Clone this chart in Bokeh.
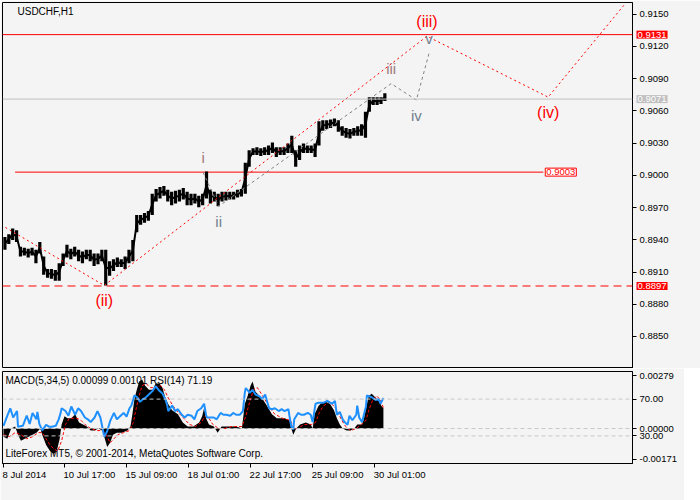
from bokeh.plotting import figure
from bokeh.models import Range1d, FixedTicker, Span, Label, PrintfTickFormatter
from bokeh.layouts import column
from bokeh.embed import file_html
from bokeh.resources import INLINE
from bokeh.core.properties import value

# ---------------- data ----------------
symbol = "USDCHF,H1"
bars = list(range(0, 393, 4))  # hourly bar index of each sample
high = [0.89425, 0.89452, 0.89506, 0.89488, 0.89335, 0.89326, 0.89317, 0.89326, 0.89308, 0.89380,
        0.89245, 0.89128, 0.89128, 0.89119, 0.89182, 0.89272, 0.89353, 0.89317, 0.89335, 0.89308,
        0.89290, 0.89308, 0.89308, 0.89272, 0.89272, 0.89308, 0.89308, 0.89200, 0.89218, 0.89236,
        0.89218, 0.89245, 0.89308, 0.89398, 0.89631, 0.89631, 0.89649, 0.89667, 0.89829, 0.89874,
        0.89892, 0.89901, 0.89865, 0.89847, 0.89856, 0.89865, 0.89883, 0.89847, 0.89829, 0.89829,
        0.89811, 0.89829, 0.90036, 0.89865, 0.89847, 0.89829, 0.89847, 0.89847, 0.89847, 0.89847,
        0.89865, 0.89874, 0.90117, 0.90234, 0.90252, 0.90261, 0.90252, 0.90261, 0.90279, 0.90306,
        0.90261, 0.90261, 0.90261, 0.90297, 0.90369, 0.90234, 0.90279, 0.90297, 0.90279, 0.90279,
        0.90297, 0.90503, 0.90512, 0.90512, 0.90521, 0.90530, 0.90512, 0.90458, 0.90440, 0.90431,
        0.90440, 0.90458, 0.90476, 0.90593, 0.90728, 0.90728, 0.90728, 0.90728, 0.90764]
low = [0.89308, 0.89362, 0.89398, 0.89380, 0.89245, 0.89254, 0.89236, 0.89254, 0.89182, 0.89272,
       0.89074, 0.89047, 0.89038, 0.89020, 0.89020, 0.89155, 0.89236, 0.89218, 0.89245, 0.89200,
       0.89182, 0.89218, 0.89200, 0.89155, 0.89173, 0.89200, 0.88975, 0.89065, 0.89110, 0.89146,
       0.89146, 0.89128, 0.89182, 0.89200, 0.89470, 0.89541, 0.89559, 0.89577, 0.89631, 0.89757,
       0.89784, 0.89811, 0.89757, 0.89721, 0.89739, 0.89757, 0.89775, 0.89721, 0.89721, 0.89739,
       0.89703, 0.89721, 0.89784, 0.89739, 0.89757, 0.89712, 0.89757, 0.89766, 0.89775, 0.89775,
       0.89793, 0.89802, 0.89829, 0.90081, 0.90189, 0.90189, 0.90180, 0.90189, 0.90189, 0.90207,
       0.90171, 0.90189, 0.90189, 0.90207, 0.90207, 0.90081, 0.90144, 0.90207, 0.90207, 0.90207,
       0.90171, 0.90279, 0.90414, 0.90431, 0.90440, 0.90458, 0.90405, 0.90369, 0.90351, 0.90342,
       0.90369, 0.90369, 0.90369, 0.90351, 0.90593, 0.90656, 0.90656, 0.90665, 0.90692]

price_ticks = [0.8850, 0.8880, 0.8910, 0.8940, 0.8970, 0.9000, 0.9030, 0.9060, 0.9090, 0.9120, 0.9150]
price_range = (0.88202, 0.91609)
bar_range = (-1, 649)

level_target = 0.9131
level_close = 0.9071
level_mid = 0.9003
level_mid_bars = [12, 557]
level_support = 0.8897

wave_major_bar = [2, 104, 437, 562, 640]
wave_major_price = [0.89515, 0.88975, 0.91295, 0.90728, 0.91582]
wave_major_label = ["", "(ii)", "(iii)", "(iv)", ""]
wave_major_side = [0, 1, -1, 1, 0]          # 1 = below point, -1 = above
wave_minor_bar = [206, 222, 400, 426, 439]
wave_minor_price = [0.90027, 0.89712, 0.90854, 0.90701, 0.91133]
wave_minor_label = ["i", "ii", "iii", "iv", "v"]
wave_minor_side = [-1, 1, -1, 1, -1]
wave_minor_color = ["#A07A7A", "#708090", "#A07A7A", "#708090", "#708090"]

time_tick_bar = [0, 63, 127, 191, 255, 319, 383]
time_tick_label = ["8 Jul 2014", "10 Jul 17:00", "15 Jul 09:00", "18 Jul 01:00",
                   "22 Jul 17:00", "25 Jul 09:00", "30 Jul 01:00"]

macd_range = (-0.00171, 0.00279)
macd_bar = [0, 4, 8, 12, 15, 18, 22, 26, 30, 34, 38, 40, 44, 48, 52, 55, 58, 60, 63, 66,
            70, 74, 78, 82, 86, 90, 94, 98, 102, 104, 107, 110, 113, 117, 122, 128, 131, 133, 135, 137,
            140, 143, 146, 150, 154, 157, 161, 164, 167, 170, 174, 180, 185, 190, 196, 202, 205, 207, 209, 212,
            217, 221, 225, 232, 240, 246, 249, 252, 255, 257, 260, 264, 268, 272, 277, 282, 290, 295, 297, 299,
            302, 306, 312, 317, 319, 321, 325, 329, 333, 337, 341, 344, 347, 350, 354, 358, 362, 365, 370, 372,
            374, 377, 380, 384, 387, 390, 392]
macd_val = [-0.0004, -0.0005, 0.0000, 0.0001, -0.0003, -0.0006, -0.0005, -0.0004, -0.0003, -0.0002,
            0.0000, -0.0003, -0.0008, -0.0011, -0.00125, -0.0011, -0.0005, 0.0002, 0.0006, 0.0005,
            0.0005, 0.0007, 0.0003, 0.0002, 0.0001, -0.0001, -0.0001, 0.0000, -0.0001, -0.0004,
            -0.0009, -0.0007, -0.0003, -0.0002, -0.0002, -0.0001, 0.0001, 0.0007, 0.0014, 0.0018,
            0.0023, 0.0024, 0.0021, 0.0019, 0.0019, 0.0022, 0.0022, 0.0020, 0.0015, 0.0012,
            0.0009, 0.0007, 0.0003, 0.0001, 0.0001, 0.0003, 0.0006, 0.0010, 0.0005, 0.0002,
            0.0001, -0.0002, 0.0001, 0.0001, 0.0001, 0.0000, 0.0012, 0.0016, 0.0021, 0.0023,
            0.0018, 0.0016, 0.0014, 0.0011, 0.0007, 0.0005, 0.0005, 0.0004, 0.0000, -0.0003,
            0.0000, 0.0002, 0.0003, 0.0002, 0.0000, 0.0007, 0.0011, 0.0013, 0.0013, 0.0012,
            0.0009, 0.0005, 0.0002, 0.0000, -0.0001, -0.0001, 0.0000, 0.0002, 0.0002, 0.0005,
            0.0010, 0.0016, 0.0017, 0.0015, 0.0014, 0.0011, 0.00099]
signal_bar = [0, 6, 12, 18, 24, 30, 36, 40, 44, 48, 52, 56, 60, 64, 68, 72, 76, 80, 84, 90,
              96, 102, 106, 110, 114, 118, 124, 130, 134, 137, 140, 143, 147, 152, 157, 162, 166, 170, 175, 180,
              186, 192, 198, 204, 208, 212, 216, 222, 228, 236, 246, 250, 254, 258, 262, 266, 270, 275, 280, 288,
              296, 300, 304, 310, 318, 322, 326, 330, 336, 341, 345, 349, 353, 358, 364, 369, 374, 377, 381, 385,
              389, 392]
signal_val = [-0.0003, -0.0004, -0.0002, -0.0003, -0.0005, -0.0004, -0.0002, -0.0002, -0.0005, -0.0008,
              -0.0010, -0.0011, -0.0006, 0.0002, 0.0005, 0.0005, 0.0005, 0.0004, 0.0002, 0.0000,
              -0.0001, -0.0001, -0.0003, -0.0007, -0.0005, -0.0003, -0.0002, -0.0001, 0.0003, 0.0010,
              0.0016, 0.0021, 0.0022, 0.0020, 0.0020, 0.0021, 0.0019, 0.0015, 0.0011, 0.0008,
              0.0005, 0.0002, 0.0001, 0.0003, 0.0006, 0.0005, 0.0002, 0.0000, 0.0000, 0.0001,
              0.0001, 0.0006, 0.0013, 0.0019, 0.0020, 0.0017, 0.0014, 0.0010, 0.0007, 0.0005,
              0.0004, 0.0000, 0.0000, 0.0002, 0.0002, 0.0003, 0.0008, 0.0011, 0.0013, 0.0011,
              0.0008, 0.0004, 0.0001, -0.0001, 0.0000, 0.0002, 0.0004, 0.0009, 0.0014, 0.0016,
              0.0014, 0.00101]
rsi_bar = [0, 4, 7, 10, 14, 15, 20, 24, 27, 30, 34, 35, 37, 40, 44, 47, 50, 54, 57, 59,
           60, 64, 67, 70, 74, 77, 80, 84, 87, 90, 94, 97, 100, 104, 107, 110, 114, 117, 120, 124,
           127, 130, 132, 135, 138, 141, 144, 147, 150, 154, 157, 160, 164, 167, 169, 170, 174, 177, 180, 184,
           187, 190, 194, 197, 200, 204, 207, 209, 210, 217, 220, 224, 227, 230, 234, 237, 240, 244, 247, 249,
           250, 254, 257, 260, 264, 267, 270, 274, 277, 280, 284, 287, 290, 294, 295, 297, 299, 300, 304, 307,
           310, 314, 317, 319, 322, 325, 330, 334, 339, 342, 344, 347, 350, 352, 355, 357, 360, 364, 365, 367,
           370, 374, 375, 380, 384, 387, 389, 392]
rsi_val = [41, 52, 60, 50, 57, 40, 41, 52, 43, 55, 48, 56, 43, 36, 42, 40, 40, 41, 48, 55,
           60, 57, 52, 62, 53, 60, 57, 50, 48, 45, 50, 57, 50, 29, 35, 46, 55, 48, 51, 55,
           51, 60, 63, 74, 72, 67, 70, 72, 75, 79, 84, 80, 76, 70, 63, 57, 63, 57, 59, 53,
           50, 53, 52, 48, 57, 60, 65, 53, 50, 50, 48, 55, 53, 53, 52, 55, 53, 53, 57, 77,
           82, 77, 80, 75, 73, 70, 75, 60, 59, 60, 57, 59, 57, 59, 52, 40, 37, 48, 55, 53,
           53, 55, 53, 45, 65, 66, 66, 68, 65, 68, 53, 56, 48, 45, 42, 52, 47, 53, 63, 50,
           45, 62, 74, 72, 69, 70, 65, 71.19]
rsi_levels = [70, 30]
copyright_text = "LiteForex MT5, \u00a9 2001-2014, MetaQuotes Software Corp."

# ---------------- style ----------------
BG = "#F4F4F4"
FONT = "Liberation Sans"
AX_FS = "9.5px"
FRAME_W = 630


def style_axis(ax):
    ax.axis_line_color = "black"
    ax.major_tick_line_color = "black"
    ax.major_tick_out = 4
    ax.major_tick_in = 0
    ax.minor_tick_line_color = None
    ax.major_label_text_font = FONT
    ax.major_label_text_font_size = AX_FS
    ax.major_label_text_color = "black"
    ax.major_label_standoff = 3


# ---------------- main price panel ----------------
main = figure(frame_width=FRAME_W, frame_height=366,
              x_range=Range1d(*bar_range), y_range=Range1d(*price_range),
              output_backend="svg", toolbar_location=None,
              x_axis_location=None, y_axis_location="right",
              min_border_left=2, min_border_top=2, min_border_bottom=0, min_border_right=52,
              background_fill_color=BG, border_fill_color=BG,
              outline_line_color="black")
main.grid.visible = False
yax = main.yaxis[0]
yax.ticker = FixedTicker(ticks=price_ticks)
yax.formatter = PrintfTickFormatter(format="%.4f")
style_axis(yax)

main.add_layout(Span(location=level_target, dimension="width", line_color="red", line_width=1))
main.add_layout(Span(location=level_close, dimension="width", line_color="#C0C0C0", line_width=1))
main.add_layout(Span(location=level_support, dimension="width", line_color="red", line_width=1,
                     line_dash="8 5"))
main.segment(x0=[level_mid_bars[0]], y0=[level_mid], x1=[level_mid_bars[1]], y1=[level_mid],
             line_color="red", line_width=1)

# price bars (high-low range of each sample, joined through the middle)
centers = [b + 1.5 for b in bars]
mids = [(h + l) / 2 for h, l in zip(high, low)]
main.segment(x0=centers, y0=low, x1=centers, y1=high, line_color="black", line_width=3.2)
main.line(centers, mids, line_color="black", line_width=2)

# wave lines
main.line(wave_major_bar, wave_major_price, line_color="red", line_width=1, line_dash="2 3")
main.line(wave_minor_bar, wave_minor_price, line_color="#808080", line_width=1, line_dash="3 3")

OFF = 15
main.text(x=wave_major_bar, y=wave_major_price, text=wave_major_label,
          y_offset=[s * OFF for s in wave_major_side],
          text_align="center", text_baseline="middle", text_font=value(FONT),
          text_font_size="16px", text_color="red")
main.text(x=wave_minor_bar, y=wave_minor_price, text=wave_minor_label,
          y_offset=[s * OFF for s in wave_minor_side],
          text_align="center", text_baseline="middle", text_font=value(FONT),
          text_font_size="15px", text_color=wave_minor_color)

# right-hand price tags (placed in the right panel so they are not clipped)
for lvl, bg, fg in [(level_target, "red", "white"), (level_close, "#C0C0C0", "white"),
                    (level_support, "red", "white")]:
    main.add_layout(Label(x=bar_range[1], y=lvl, x_offset=4,
                          text="%.4f" % lvl, text_font=FONT, text_font_size=AX_FS,
                          text_color=fg, background_fill_color=bg, text_baseline="middle",
                          text_align="left", padding=1), "right")
main.add_layout(Label(x=level_mid_bars[1] + 2, y=level_mid, text="%.4f" % level_mid,
                      text_font=FONT, text_font_size=AX_FS, text_color="red",
                      background_fill_color="white", border_line_color="red",
                      text_baseline="middle", text_align="left", padding=1))
main.add_layout(Label(x=15, x_units="screen", y=366 - 3, y_units="screen", text=symbol,
                      text_font=FONT, text_font_size="10px", text_color="black",
                      text_baseline="top", text_align="left"))

# ---------------- indicator panel ----------------
sub = figure(frame_width=FRAME_W, frame_height=92,
             x_range=main.x_range, y_range=Range1d(*macd_range),
             output_backend="svg", toolbar_location=None,
             y_axis_location="right",
             min_border_left=2, min_border_top=3, min_border_bottom=18, min_border_right=52,
             background_fill_color=BG, border_fill_color=BG,
             outline_line_color="black")
sub.grid.visible = False
sub.extra_y_ranges = {"rsi": Range1d(0, 100)}

span = macd_range[1] - macd_range[0]


def rsi_to_macd(r):
    return macd_range[0] + r / 100.0 * span


sub_ticks = [macd_range[1] - 0.045 * span, rsi_to_macd(rsi_levels[0]), 0.0,
             rsi_to_macd(rsi_levels[1]), macd_range[0] + 0.045 * span]
sub_labels = ["%.5f" % macd_range[1], "%.2f" % rsi_levels[0], "%.5f" % 0.0,
              "%.2f" % rsi_levels[1], "%.5f" % macd_range[0]]
sax = sub.yaxis[0]
sax.ticker = FixedTicker(ticks=sub_ticks)
sax.major_label_overrides = {t: l for t, l in zip(sub_ticks, sub_labels)}
style_axis(sax)

xax = sub.xaxis[0]
xax.ticker = FixedTicker(ticks=time_tick_bar)
xax.major_label_overrides = {t: "" for t in time_tick_bar}
style_axis(xax)

# time labels start at their tick (left aligned), placed in the bottom panel
for t, lab in zip(time_tick_bar, time_tick_label):
    sub.add_layout(Label(x=t, y=macd_range[0], y_offset=-5, x_offset=-1, text=lab,
                         text_font=FONT, text_font_size=AX_FS, text_color="black",
                         text_baseline="top", text_align="left"), "below")

for lv in rsi_levels:
    sub.add_layout(Span(location=lv, dimension="width", y_range_name="rsi",
                        line_color="#C8C8C8", line_dash="4 3", line_width=1))
sub.add_layout(Span(location=0, dimension="width", line_color="#C8C8C8",
                    line_dash="4 3", line_width=1))

sub.add_layout(Label(x=3, x_units="screen", y=5, y_units="screen", text=copyright_text,
                     text_font=FONT, text_font_size="10px", text_color="black",
                     text_baseline="bottom", text_align="left", level="underlay"))

sub.varea(x=macd_bar, y1=[0] * len(macd_bar), y2=macd_val, fill_color="black")
sub.line(signal_bar, signal_val, line_color="red", line_width=1, line_dash="3 2")
sub.line(rsi_bar, rsi_val, y_range_name="rsi", line_color="#1E90FF", line_width=2)

sub.add_layout(Label(x=3, x_units="screen", y=92 - 3, y_units="screen",
                     text="MACD(5,34,5) %.5f %.5f RSI(14) %.2f" % (macd_val[-1], signal_val[-1], rsi_val[-1]),
                     text_font=FONT, text_font_size="10px", text_color="black",
                     text_baseline="top", text_align="left"))

layout = column(main, sub, spacing=0)
open("out.html", "w").write(file_html(layout, INLINE))
